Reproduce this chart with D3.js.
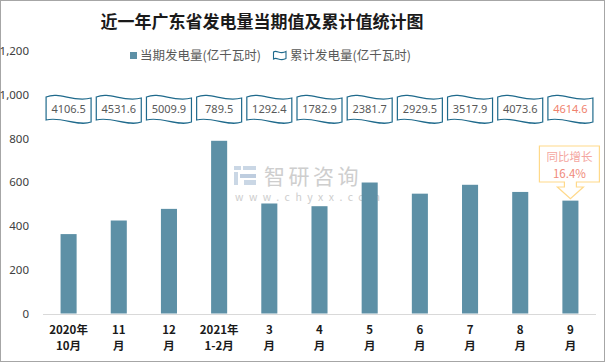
<!DOCTYPE html>
<html><head><meta charset="utf-8">
<script src="https://cdn.jsdelivr.net/npm/d3@7"></script>
<style>body{margin:0;background:#fff;}svg{display:block;font-family:"Noto Sans CJK SC","Noto Sans",sans-serif;}</style>
</head><body><svg id="c" width="606" height="363"></svg>
<script>
(function(){
const categories = [["2020年","10月"],["11","月"],["12","月"],["2021年","1-2月"],["3","月"],["4","月"],["5","月"],["6","月"],["7","月"],["8","月"],["9","月"]];
const currentValues = [363, 425.1, 478.3, 789.5, 502.9, 490.5, 598.8, 547.8, 588.4, 555.7, 516];
const cumulativeValues = [4106.5, 4531.6, 5009.9, 789.5, 1292.4, 1782.9, 2381.7, 2929.5, 3517.9, 4073.6, 4614.6];
const yTicks = [0, 200, 400, 600, 800, 1000, 1200];
const growthText = ["同比增长", "16.4%"];

const svg = d3.select("#c");
svg.append("rect").attr("x",0.5).attr("y",0.5).attr("width",604).attr("height",361)
  .attr("fill","#fff").attr("stroke","#a6a6a6");

const x = d3.scaleBand().domain(d3.range(categories.length)).range([43.5, 595.5]).paddingInner(0.68).paddingOuter(0.34);
const y = d3.scaleLinear().domain([0, 1200]).range([313.5, 51]);

// title
svg.append("text").attr("x",262).attr("y",28).attr("text-anchor","middle")
  .attr("font-size",17).attr("font-weight",700).attr("fill","#1a1a1a")
  .text("近一年广东省发电量当期值及累计值统计图");

// y axis labels
const yAxis = d3.axisLeft(y).tickValues(yTicks).tickFormat(d3.format(",")).tickSize(0).tickPadding(0);
const gy = svg.append("g").attr("transform","translate(29,0)").call(yAxis);
gy.select(".domain").remove();
gy.selectAll("text").attr("font-size",11.5).attr("fill","#404040").attr("font-family","'Noto Sans','Noto Sans CJK SC',sans-serif");

// watermark
const wm = svg.append("g").attr("opacity",0.9);
wm.append("rect").attr("x",234).attr("y",166).attr("width",7).attr("height",4).attr("fill","#c5d3e3");
wm.append("rect").attr("x",243).attr("y",166).attr("width",13).attr("height",4).attr("fill","#c5d3e3");
wm.append("rect").attr("x",234).attr("y",172).attr("width",4).attr("height",13).attr("fill","#c5d3e3");
wm.append("rect").attr("x",240).attr("y",174).attr("width",16).attr("height",4).attr("fill","#b7c8dc");
wm.append("rect").attr("x",244).attr("y",180).attr("width",12).attr("height",5).attr("fill","#c5d3e3");
wm.append("text").attr("x",264).attr("y",184).attr("font-size",21).attr("fill","#c9c9c9").attr("letter-spacing",3.5).text("智研咨询");
wm.append("text").attr("x",235).attr("y",201).attr("font-size",10.5).attr("fill","#c9c9c9").attr("letter-spacing",5.5).text("www.chyxx.com");

// bars
svg.append("g").selectAll("rect").data(currentValues).join("rect")
  .attr("x",(d,i)=>x(i)).attr("width",x.bandwidth())
  .attr("y",d=>y(d)).attr("height",d=>y(0)-y(d)).attr("fill","#5d90a6");

// x axis line
svg.append("line").attr("x1",43).attr("x2",596).attr("y1",314.5).attr("y2",314.5).attr("stroke","#d9d9d9");

// x labels
const xl = svg.append("g").selectAll("text").data(categories).join("text")
  .attr("text-anchor","middle").attr("font-size",11.5).attr("font-weight",700).attr("fill","#1a1a1a");
xl.append("tspan").attr("x",(d,i)=>x(i)+x.bandwidth()/2).attr("y",334).text(d=>d[0]);
xl.append("tspan").attr("x",(d,i)=>x(i)+x.bandwidth()/2).attr("y",350).text(d=>d[1]);

// wave boxes
function wavePath(cx, t, w, h){
  const x0 = cx - w/2, x1 = cx + w/2, b = t + h;
  return `M${x0},${t+2} C${x0+w*0.3},${t-4} ${x0+w*0.6},${t+8} ${x1},${t+3}`+
         ` L${x1},${b+1} C${x1-w*0.3},${b+6} ${x1-w*0.65},${b-5} ${x0},${b-1} Z`;
}
const bx = svg.append("g");
cumulativeValues.forEach((v,i)=>{
  const cx = x(i)+x.bandwidth()/2;
  bx.append("path").attr("d",wavePath(cx,95,45,26)).attr("fill","#fff").attr("stroke","#1f6a8c").attr("stroke-width",1.2);
  bx.append("text").attr("x",cx).attr("y",113).attr("text-anchor","middle").attr("font-size",11)
    .attr("font-family","'Noto Sans','Noto Sans CJK SC',sans-serif")
    .attr("fill", i===cumulativeValues.length-1 ? "#f0826d" : "#595959").text(d3.format(".1f")(v));
});

// legend
svg.append("rect").attr("x",130).attr("y",52).attr("width",7).attr("height",7).attr("fill","#5d90a6");
svg.append("text").attr("x",140).attr("y",60).attr("font-size",12.5).attr("fill","#595959").text("当期发电量(亿千瓦时)");
svg.append("path").attr("d","M273.5,52 C277,49.5 280,55 286,51.5 L286,58.5 C280,62 277,56.5 273.5,59 Z")
  .attr("fill","#fff").attr("stroke","#1f6a8c").attr("stroke-width",1.1);
svg.append("text").attr("x",290).attr("y",60).attr("font-size",12.5).attr("fill","#595959").text("累计发电量(亿千瓦时)");

// growth callout
const last = categories.length-1;
const acx = x(last)+x.bandwidth()/2;
const calloutTop = 146, calloutBot = 182;
const tipY = y(currentValues[last]) - 2;
svg.append("path").attr("d",
  `M${acx-31},${calloutTop} L${acx+29},${calloutTop} L${acx+29},${calloutBot} L${acx+6},${calloutBot} L${acx+6},${calloutBot+5} L${acx+13},${calloutBot+5} L${acx},${tipY} L${acx-13},${calloutBot+5} L${acx-6},${calloutBot+5} L${acx-6},${calloutBot} L${acx-31},${calloutBot} Z`)
  .attr("fill","#fff").attr("stroke","#ffd98a").attr("stroke-width",1.2);
svg.append("text").attr("x",acx-1).attr("y",161).attr("text-anchor","middle").attr("font-size",11.5).attr("fill","#f4a6a0").text(growthText[0]);
svg.append("text").attr("x",acx-1).attr("y",178).attr("text-anchor","middle").attr("font-size",11.5).attr("fill","#f08a7a").text(growthText[1]);
})();
</script></body></html>
